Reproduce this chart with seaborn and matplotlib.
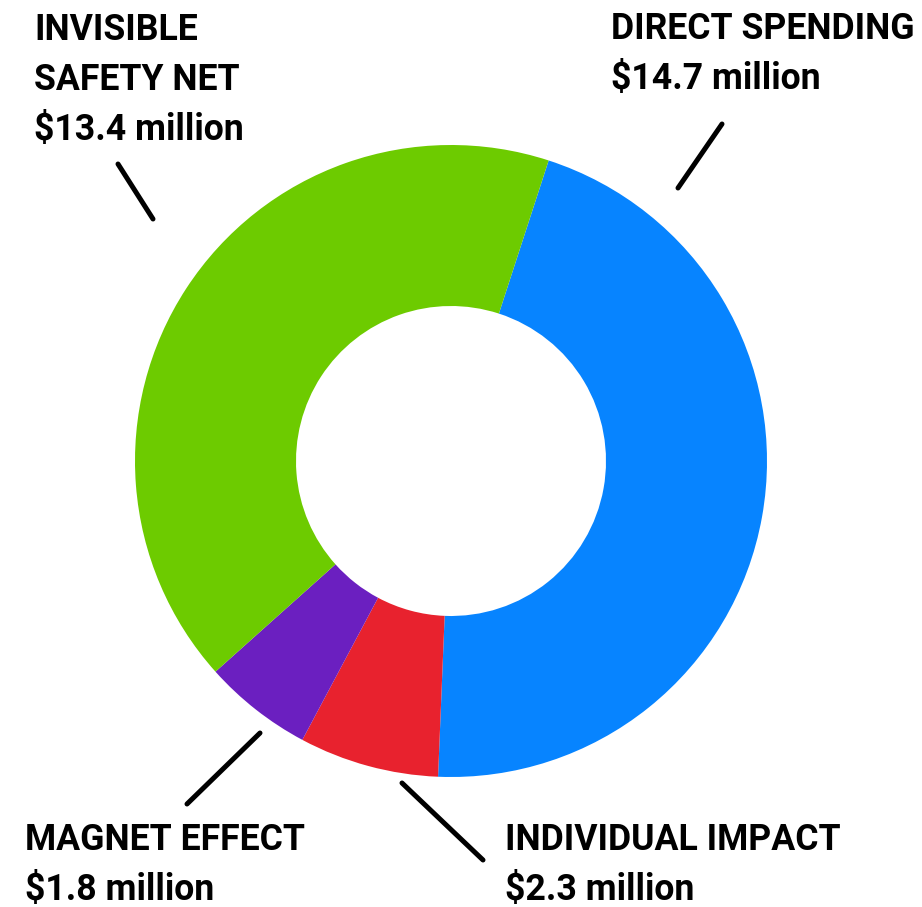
import matplotlib
matplotlib.use("Agg")
import matplotlib.pyplot as plt
import seaborn as sns

sns.set_theme(style="white")
plt.rcParams["font.family"] = ["Roboto", "DejaVu Sans"]

# data
categories = ["DIRECT SPENDING", "INDIVIDUAL IMPACT", "MAGNET EFFECT", "INVISIBLE\nSAFETY NET"]
values = [14.7, 2.3, 1.8, 13.4]
value_labels = ["$14.7 million", "$2.3 million", "$1.8 million", "$13.4 million"]
colors = ["#0784FF", "#E8222E", "#6B1FC0", "#6DCB00"]

W, H = 922, 907
fig = plt.figure(figsize=(W / 100, H / 100), dpi=100)
ax = fig.add_axes([0, 0, 1, 1])

cx, cy, R = 451, 461, 316
# y axis inverted -> counterclock=True in data renders clockwise visually
ax.pie(values, colors=colors, startangle=-72, counterclock=True,
       radius=R, center=(cx, cy), frame=True,
       wedgeprops=dict(width=R - 155, linewidth=0, antialiased=True))
ax.set_xlim(0, W)
ax.set_ylim(H, 0)
ax.set_aspect("equal")
ax.axis("off")

fs = 25.7
# label blocks: (x, first baseline y)
label_pos = [(611, 39), (505, 850), (25, 850), (34, 40)]
for (x, y), cat, val in zip(label_pos, categories, value_labels):
    lines = cat.split("\n") + [val]
    for i, ln in enumerate(lines):
        ax.text(x, y + 50 * i, ln, fontsize=fs, fontweight="bold",
                color="black", ha="left", va="baseline")

leaders = [((722, 124), (678, 188)),
           ((402, 783), (483, 860)),
           ((260, 733), (187, 804)),
           ((118, 164), (153, 219))]
for (x0, y0), (x1, y1) in leaders:
    ax.plot([x0, x1], [y0, y1], color="black", lw=3.6, solid_capstyle="round")

fig.savefig("out.png", dpi=100, facecolor="white")
